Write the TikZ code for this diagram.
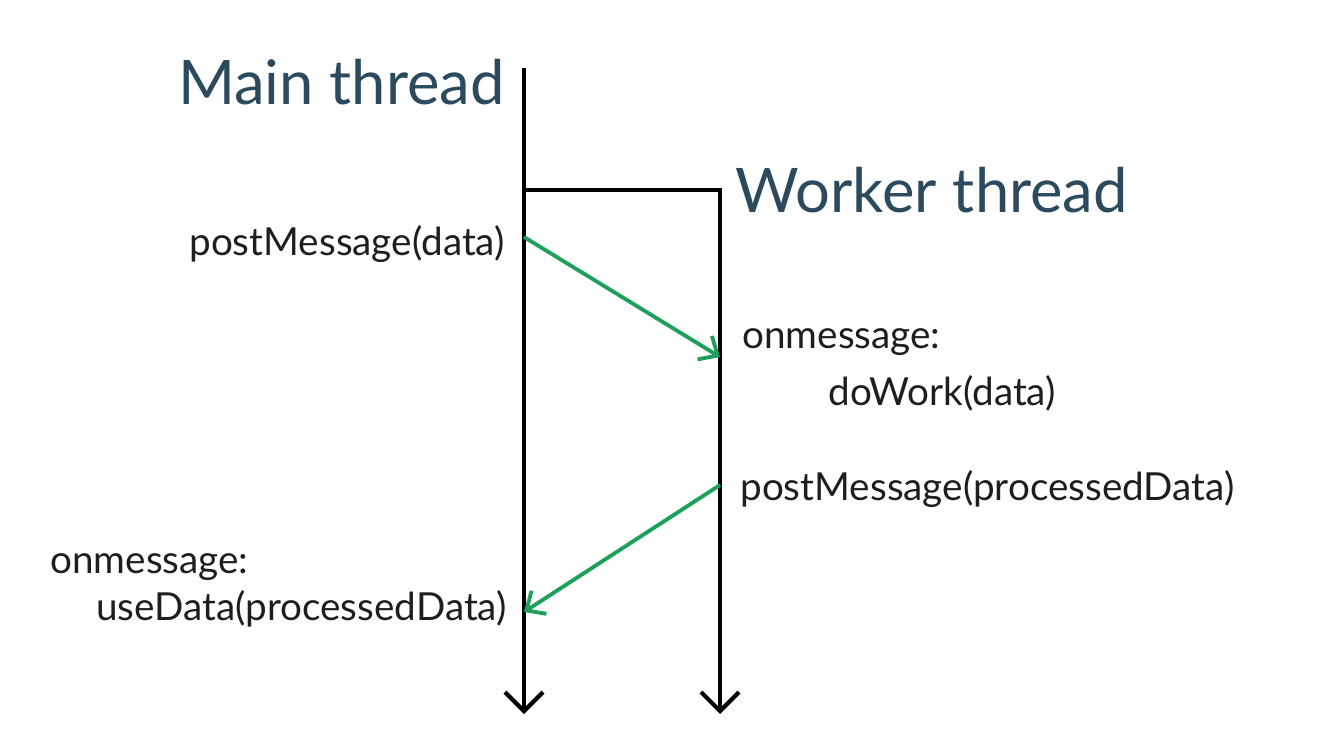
\documentclass[tikz,border=0pt]{standalone}
\usepackage{fontspec}
\setmainfont{Lato}
\usepackage{xcolor}
\usetikzlibrary{arrows.meta}
\definecolor{inkblue}{HTML}{2B4A5E}
\definecolor{inkgray}{HTML}{1E1E1E}
\definecolor{msggreen}{HTML}{1FA05A}

\begin{document}
\begin{tikzpicture}[
    x=0.02cm, y=-0.02cm,
    thread/.style={draw=black, line width=2.4pt, line join=miter,
      -{Straight Barb[length=0.38cm, width=0.76cm, line width=2.4pt]}},
    message/.style={draw=msggreen, line width=2.2pt,
      -{Straight Barb[length=0.3cm, width=0.55cm, line width=2.2pt]}},
    heading/.style={font=\fontsize{35}{40}\selectfont, text=inkblue, inner sep=0pt, anchor=base west},
    note/.style={font=\fontsize{22}{26}\selectfont, text=inkgray, inner sep=0pt, anchor=base west}
  ]
  \useasboundingbox (0,0) rectangle (1318,750);

  % threads
  \coordinate (mainTop) at (524,68);
  \coordinate (mainEnd) at (524,714);
  \coordinate (fork) at (524,190);
  \coordinate (workerTop) at (720,190);
  \coordinate (workerEnd) at (720,714);
  \draw[thread] (mainTop) -- (mainEnd);
  \draw[thread] (fork) -- (workerTop) -- (workerEnd);

  % labels
  \node[heading, anchor=base east] (mainLabel) at (505,105) {Main thread};
  \node[heading] (workerLabel) at (735,212) {Worker thread};

  % messages
  \coordinate (sendData) at (524,237);
  \coordinate (recvData) at (720,357);
  \coordinate (sendResult) at (720,485);
  \coordinate (recvResult) at (524,612);
  \draw[message] (sendData) -- (recvData);
  \draw[message] (sendResult) -- (recvResult);

  \node[note, anchor=base east] (postData) at (505,255) {postMessage(data)};
  \node[note] (workerOn) at (742,348) {onmessage:};
  \node[note] (doWork) at (828,405) {doWork(data)};
  \node[note] (postResult) at (740,500) {postMessage(processedData)};
  \node[note] (mainOn) at (50,573) {onmessage:};
  \node[note, anchor=base east] (useData) at (507,620) {useData(processedData)};
\end{tikzpicture}
\end{document}
